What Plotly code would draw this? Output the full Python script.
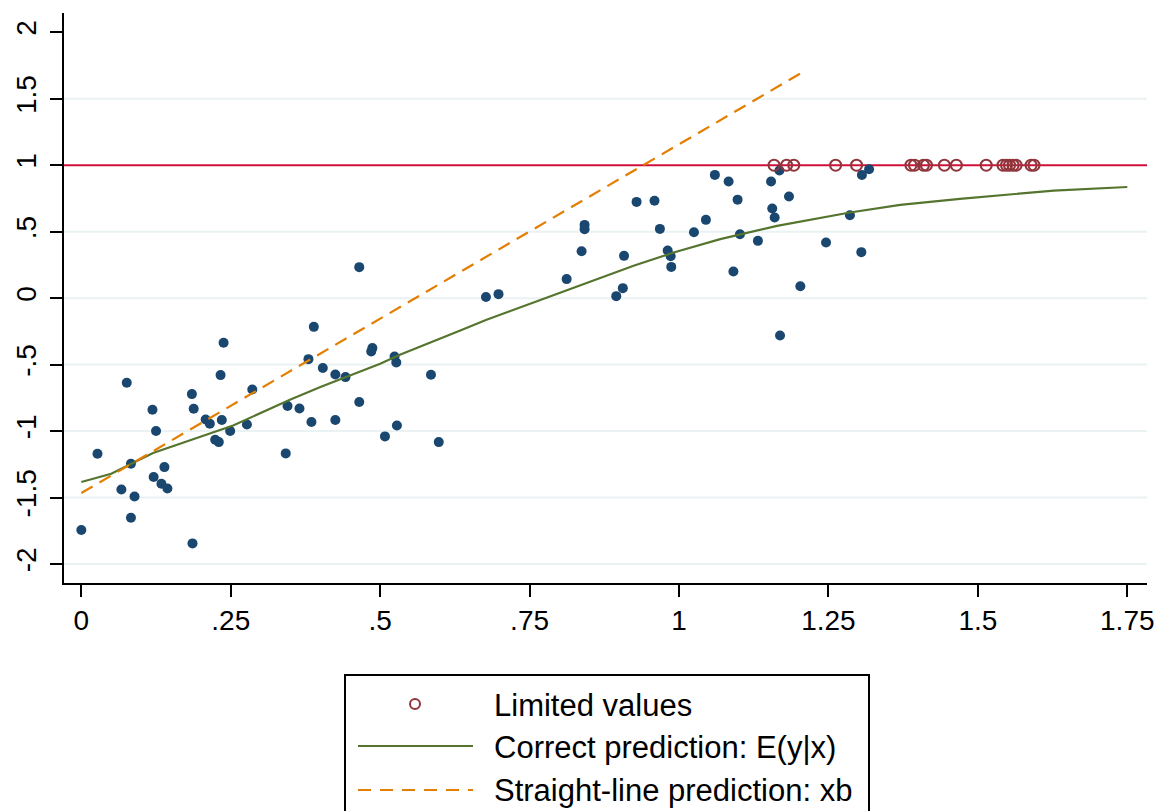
import plotly.graph_objects as go

# Observed (uncensored) outcomes
obs_x = [0.238, 0.233, 0.076, 0.286, 0.185, 0.119, 0.188, 0.208, 0.235, 0.215,
         0.277, 0.125, 0.249, 0.224, 0.230, 0.027, 0.083, 0.139, 0.121, 0.134,
         0.144, 0.067, 0.089, 0.083, 0.000, 0.186,
         0.465, 0.389, 0.487, 0.485, 0.380, 0.524, 0.527, 0.404, 0.425, 0.442,
         0.585, 0.465, 0.345, 0.365, 0.385, 0.425, 0.528, 0.508, 0.598, 0.342,
         1.060, 0.929, 0.959, 1.045, 0.842, 0.842, 0.968, 1.025, 0.837, 0.981,
         0.908, 0.986, 0.987, 0.812, 0.906, 0.698, 0.677, 0.895,
         1.168, 1.318, 1.306, 1.083, 1.154, 1.098, 1.184, 1.156, 1.160, 1.286,
         1.102, 1.132, 1.246, 1.305, 1.091, 1.203, 1.169]
obs_y = [-0.336, -0.579, -0.637, -0.687, -0.722, -0.840, -0.832, -0.913, -0.917, -0.945,
         -0.950, -1.000, -1.000, -1.065, -1.083, -1.171, -1.246, -1.271, -1.346, -1.396,
         -1.432, -1.439, -1.492, -1.652, -1.744, -1.845,
         0.233, -0.216, -0.376, -0.401, -0.459, -0.439, -0.484, -0.526, -0.574, -0.594,
         -0.577, -0.782, -0.812, -0.830, -0.932, -0.917, -0.958, -1.040, -1.083, -1.168,
         0.927, 0.724, 0.732, 0.589, 0.551, 0.519, 0.521, 0.496, 0.353, 0.358,
         0.318, 0.316, 0.235, 0.143, 0.075, 0.030, 0.008, 0.015,
         0.960, 0.970, 0.927, 0.877, 0.877, 0.741, 0.764, 0.674, 0.606, 0.624,
         0.481, 0.431, 0.418, 0.346, 0.200, 0.090, -0.281]

# Censored observations sit at the upper limit
upper_limit = 1.0
cens_x = [1.159, 1.180, 1.192, 1.262, 1.297, 1.388, 1.394, 1.409, 1.414, 1.444,
          1.464, 1.514, 1.542, 1.548, 1.553, 1.559, 1.564, 1.589, 1.594]
cens_y = [upper_limit] * len(cens_x)

# Expected value E(y|x) under censoring
ey_x = [0.000, 0.050, 0.120, 0.254, 0.349, 0.400, 0.500, 0.533, 0.634, 0.678,
        0.801, 0.924, 0.991, 1.069, 1.164, 1.286, 1.370, 1.470, 1.627, 1.750]
ey_y = [-1.383, -1.321, -1.165, -0.958, -0.765, -0.669, -0.494, -0.426, -0.243, -0.163,
        0.040, 0.243, 0.343, 0.444, 0.544, 0.644, 0.701, 0.747, 0.809, 0.836]

# Linear index xb
xb_x = [0.000, 1.203]
xb_y = [-1.466, 1.690]

x_ticks = [0, 0.25, 0.5, 0.75, 1, 1.25, 1.5, 1.75]
x_ticklabels = ["0", ".25", ".5", ".75", "1", "1.25", "1.5", "1.75"]
y_ticks = [2, 1.5, 1, 0.5, 0, -0.5, -1, -1.5, -2]
y_ticklabels = ["2", "1.5", "1", ".5", "0", "-.5", "-1", "-1.5", "-2"]
grid_values = [1.5, 0.5, 0, -0.5, -1, -1.5, -2]

legend_labels = ["Limited values", "Correct prediction: E(y|x)", "Straight-line prediction: xb"]

NAVY = "#1A476F"
MAROON = "#90353B"
GREEN = "#55752F"
ORANGE = "#E37E00"
LIMIT_RED = "#D0103A"
FONT = "Arial, Liberation Sans, sans-serif"

W, H = 1161, 811
L, R, T, B = 64, 14, 13, 228
PW, PH = W - L - R, H - T - B


def px_x(px):
    return (px - L) / PW


def px_y(py):
    return (H - B - py) / PH


fig = go.Figure()

fig.add_trace(go.Scatter(x=obs_x, y=obs_y, mode="markers",
                         marker=dict(color=NAVY, size=10, line=dict(width=0)),
                         showlegend=False))
fig.add_trace(go.Scatter(x=cens_x, y=cens_y, mode="markers",
                         marker=dict(symbol="circle-open", color=MAROON, size=11,
                                     line=dict(width=2, color=MAROON)),
                         showlegend=False))
fig.add_trace(go.Scatter(x=ey_x, y=ey_y, mode="lines",
                         line=dict(color=GREEN, width=2.2), showlegend=False))
fig.add_trace(go.Scatter(x=xb_x, y=xb_y, mode="lines",
                         line=dict(color=ORANGE, width=2.2, dash="13px,8px"),
                         showlegend=False))

shapes = []
for g in grid_values:
    shapes.append(dict(type="line", xref="paper", yref="y", x0=0, x1=1, y0=g, y1=g,
                       line=dict(color="#EAF2F3", width=2), layer="below"))
shapes.append(dict(type="line", xref="paper", yref="y", x0=0, x1=1,
                   y0=upper_limit, y1=upper_limit,
                   line=dict(color=LIMIT_RED, width=2), layer="below"))

# Legend drawn below the plot area
shapes.append(dict(type="rect", xref="paper", yref="paper",
                   x0=px_x(345), x1=px_x(869), y0=px_y(675), y1=px_y(840),
                   line=dict(color="black", width=2), fillcolor="white"))
shapes.append(dict(type="circle", xref="paper", yref="paper",
                   xsizemode="pixel", ysizemode="pixel",
                   xanchor=px_x(415), yanchor=px_y(704),
                   x0=-5, x1=5, y0=-5, y1=5,
                   line=dict(color=MAROON, width=2)))
shapes.append(dict(type="line", xref="paper", yref="paper",
                   x0=px_x(358), x1=px_x(473), y0=px_y(746), y1=px_y(746),
                   line=dict(color=GREEN, width=2.2)))
shapes.append(dict(type="line", xref="paper", yref="paper",
                   x0=px_x(358), x1=px_x(473), y0=px_y(790), y1=px_y(790),
                   line=dict(color=ORANGE, width=2.2, dash="13px,9px")))

annotations = []
for label, py in zip(legend_labels, [705, 747, 790]):
    annotations.append(dict(text=label, xref="paper", yref="paper",
                            x=px_x(492), y=px_y(py), xanchor="left", yanchor="middle",
                            showarrow=False, font=dict(family=FONT, size=31, color="black")))

fig.update_layout(
    width=W, height=H,
    margin=dict(l=L, r=R, t=T, b=B),
    paper_bgcolor="white", plot_bgcolor="white",
    font=dict(family=FONT, color="black"),
    showlegend=False,
    shapes=shapes,
    annotations=annotations,
    xaxis=dict(range=[-0.029, 1.783], tickvals=x_ticks, ticktext=x_ticklabels,
               showgrid=False, zeroline=False, showline=True, linecolor="black",
               linewidth=2, ticks="outside", ticklen=12, tickwidth=1.5,
               tickcolor="black", tickfont=dict(size=28, family=FONT),
               ticklabelstandoff=-1, automargin=False),
    yaxis=dict(range=[-2.143, 2.145], tickvals=y_ticks, ticktext=y_ticklabels,
               showgrid=False, zeroline=False, showline=True, linecolor="black",
               linewidth=2, ticks="outside", ticklen=12, tickwidth=1.5,
               tickcolor="black", tickangle=-90, tickfont=dict(size=28, family=FONT),
               ticklabelstandoff=3, automargin=False),
)

fig.write_html("out.html")
